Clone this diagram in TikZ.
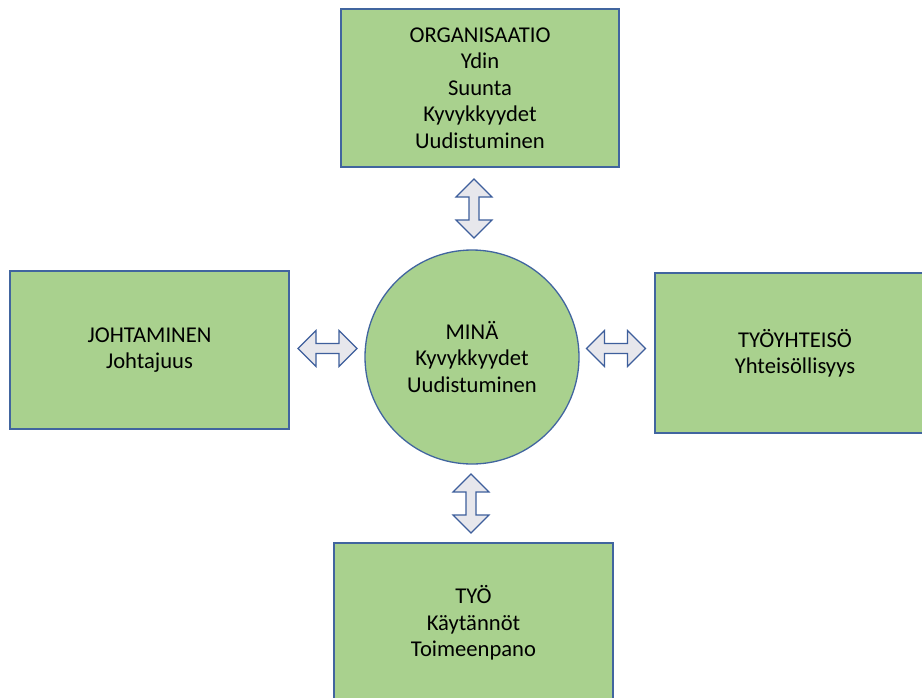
\documentclass[tikz,border=0pt]{standalone}
\usepackage{fontspec}
\setmainfont{Carlito}
\definecolor{boxgreen}{HTML}{A9D18E}
\definecolor{boxline}{HTML}{41659F}
\definecolor{arrfill}{HTML}{E7E7EC}
\definecolor{arrline}{HTML}{3E5F9C}
\tikzset{
  greenbox/.style={draw=boxline, line width=1.3pt, fill=boxgreen, rectangle,
    inner sep=0pt, align=center, font=\fontsize{22.6}{26.4}\selectfont, text=black},
  greencircle/.style={draw=boxline, line width=1.3pt, fill=boxgreen, circle,
    inner sep=0pt, align=center, font=\fontsize{22.6}{26.4}\selectfont, text=black},
  dblarrow/.pic={
    \path[draw=arrline, fill=arrfill, line width=1.2pt, line join=miter]
      (0,29.5) -- (18,11.5) -- (5,11.5) -- (5,-11.5) -- (18,-11.5) -- (0,-29.5)
      -- (-18,-11.5) -- (-5,-11.5) -- (-5,11.5) -- (-18,11.5) -- cycle;
  }
}
\begin{document}
\begin{tikzpicture}[x=1pt,y=-1pt]
\useasboundingbox (0,0) rectangle (922,697);
\clip (0,0) rectangle (922,697);
\fill[white] (0,0) rectangle (922,697);
% boxes
\node[greenbox, minimum width=278pt, minimum height=158pt] (org) at (480,88)
  {ORGANISAATIO\\Ydin\\Suunta\\Kyvykkyydet\\Uudistuminen};
\node[greenbox, minimum width=279pt, minimum height=158pt] (joht) at (149.5,350)
  {JOHTAMINEN\\Johtajuus};
\node[greenbox, minimum width=280pt, minimum height=160pt] (tyoy) at (795,353)
  {TYÖYHTEISÖ\\Yhteisöllisyys};
\node[greenbox, minimum width=279pt, minimum height=160pt] (tyo) at (473.5,623)
  {TYÖ\\Käytännöt\\Toimeenpano};
\node[greencircle, minimum size=214pt] (mina) at (472,357)
  {MINÄ\\Kyvykkyydet\\Uudistuminen};
% double arrows
\pic (aup) at (474,208.5) {dblarrow};
\pic (adown) at (471,503.5) {dblarrow};
\pic[rotate=90] (aleft) at (327.5,348.5) {dblarrow};
\pic[rotate=90] (aright) at (616,348.5) {dblarrow};
\end{tikzpicture}
\end{document}
